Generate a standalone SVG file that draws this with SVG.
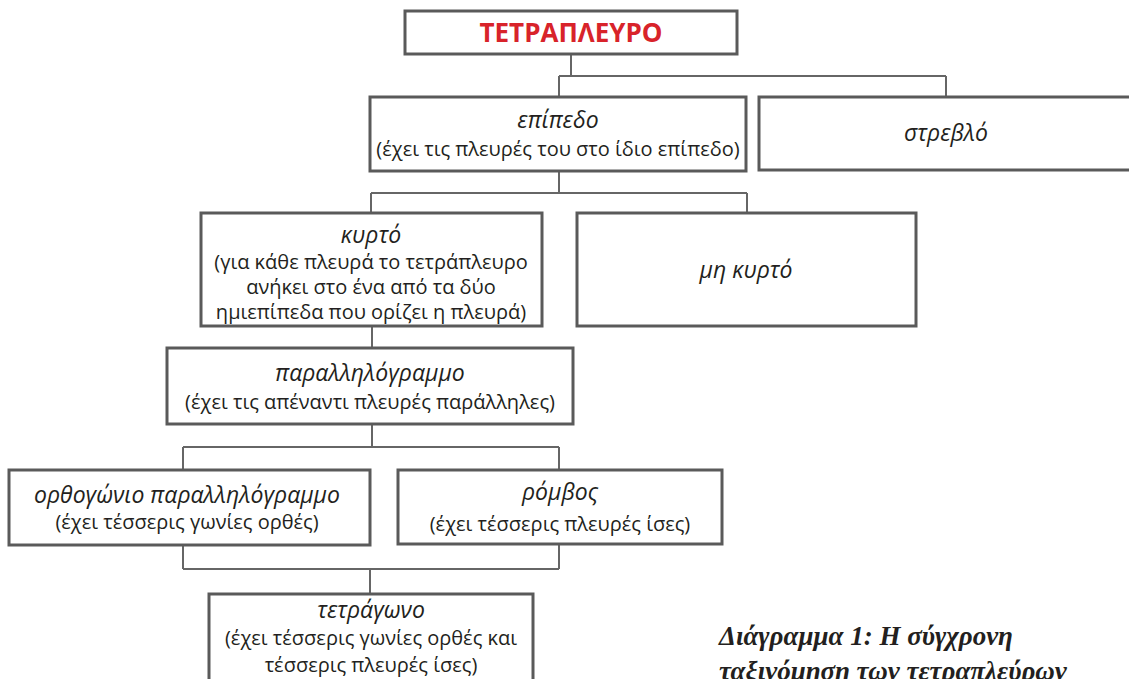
<svg xmlns="http://www.w3.org/2000/svg" width="1129" height="679" viewBox="0 0 1129 679">
<style>
.box{fill:#fff;stroke:#5a5a5a;stroke-width:3}
.ln{fill:none;stroke:#666;stroke-width:2}
.t{font-family:"Open Sans","Noto Sans",sans-serif;font-size:23px;fill:#231f20;text-anchor:middle}
.i{font-style:italic}
.s{font-size:20px}
.title{font-family:"Open Sans","Noto Sans",sans-serif;font-weight:bold;font-size:26px;fill:#d8232a;text-anchor:middle}
.cap{font-family:"Liberation Serif",serif;font-weight:bold;font-style:italic;font-size:27px;fill:#231f20}
</style>
<rect width="1129" height="679" fill="#fff"/>
<g id="connectors">
<path class="ln" d="M571 54V76M559 76H946M559 76V97M946 76V97"/>
<path class="ln" d="M559 171V193M371 193H747M371 193V213M747 193V213"/>
<path class="ln" d="M372 326V348"/>
<path class="ln" d="M372 424V447M183 447H559M183 447V470M559 447V470"/>
<path class="ln" d="M183 545V569M559 544V569M183 569H559M370 569V594"/>
</g>
<g id="n-tetrapleuro">
<rect class="box" x="405" y="11" width="332" height="43"/>
<text class="title" x="571" y="42">ΤΕΤΡΑΠΛΕΥΡΟ</text>
</g>
<g id="n-epipedo">
<rect class="box" x="370" y="97" width="376" height="74"/>
<text class="t i" x="558" y="128">επίπεδο</text>
<text class="t s" x="558" y="156">(έχει τις πλευρές του στο ίδιο επίπεδο)</text>
</g>
<g id="n-strevlo">
<rect class="box" x="759" y="97" width="374" height="73"/>
<text class="t i" x="946" y="141">στρεβλό</text>
</g>
<g id="n-kyrto">
<rect class="box" x="201" y="213" width="341" height="113"/>
<text class="t i" x="371" y="243">κυρτό</text>
<text class="t s" x="371" y="269">(για κάθε πλευρά το τετράπλευρο</text>
<text class="t s" x="371" y="294">ανήκει στο ένα από τα δύο</text>
<text class="t s" x="371" y="319">ημιεπίπεδα που ορίζει η πλευρά)</text>
</g>
<g id="n-mh-kyrto">
<rect class="box" x="577" y="213" width="339" height="113"/>
<text class="t i" x="746" y="278">μη κυρτό</text>
</g>
<g id="n-parallilogrammo">
<rect class="box" x="167" y="348" width="406" height="76"/>
<text class="t i" x="370" y="381">παραλληλόγραμμο</text>
<text class="t s" x="370" y="409">(έχει τις απέναντι πλευρές παράλληλες)</text>
</g>
<g id="n-orthogonio">
<rect class="box" x="9" y="470" width="361" height="75"/>
<text class="t i" x="187" y="503">ορθογώνιο παραλληλόγραμμο</text>
<text class="t s" x="187" y="529">(έχει τέσσερις γωνίες ορθές)</text>
</g>
<g id="n-rombos">
<rect class="box" x="398" y="470" width="324" height="74"/>
<text class="t i" x="560" y="500">ρόμβος</text>
<text class="t s" x="560" y="531">(έχει τέσσερις πλευρές ίσες)</text>
</g>
<g id="n-tetragono">
<rect class="box" x="209" y="594" width="324" height="90"/>
<text class="t i" x="371" y="618">τετράγωνο</text>
<text class="t s" x="371" y="645">(έχει τέσσερις γωνίες ορθές και</text>
<text class="t s" x="371" y="672">τέσσερις πλευρές ίσες)</text>
</g>
<g id="caption">
<text class="cap" x="719" y="645">Διάγραμμα 1: Η σύγχρονη</text>
<text class="cap" x="719" y="680">ταξινόμηση των τετραπλεύρων</text>
</g>
</svg>
